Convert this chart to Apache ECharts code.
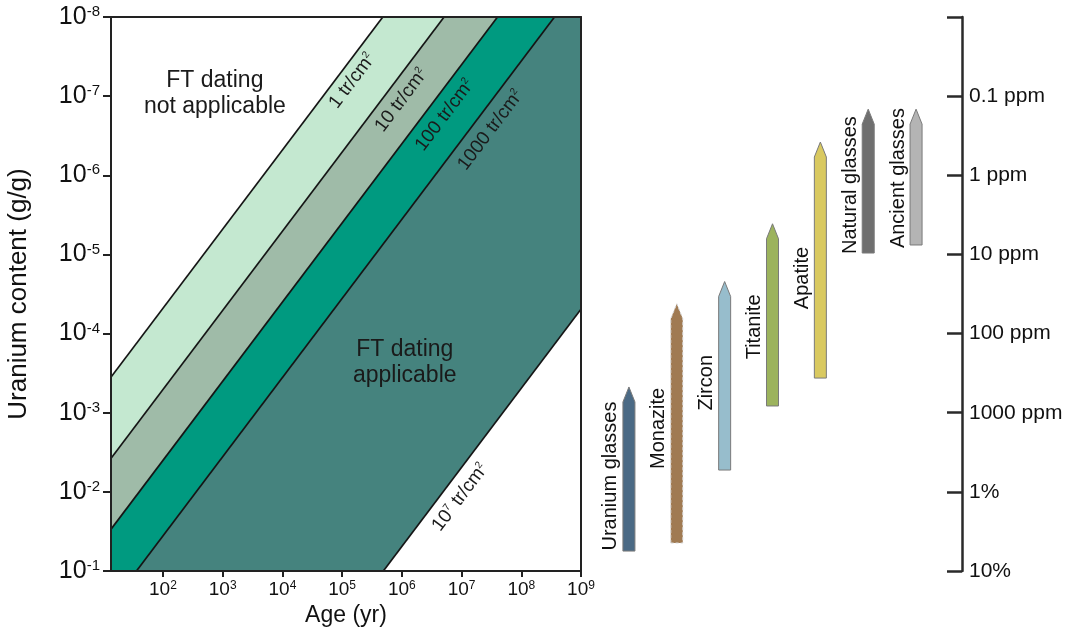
<!DOCTYPE html>
<html><head><meta charset="utf-8">
<script src="https://cdn.jsdelivr.net/npm/echarts@6/dist/echarts.min.js"></script>
<style>html,body{margin:0;padding:0;background:#fff}#c{width:1066px;height:633px}</style>
</head><body><div id="c"></div>
<script>
const FONT = '"Liberation Sans", Arial, sans-serif';

// ---------- data ----------
const ageLogRange = [1.13, 9];            // log10(age, yr) shown on x axis
const uraniumLogRange = [-8, -1];         // log10(U, g/g) shown on y axis
const xTickExponents = [2, 3, 4, 5, 6, 7, 8, 9];
const yTickExponents = [-8, -7, -6, -5, -4, -3, -2, -1];
const trackDensityLabels = ['1', '10', '100', '1000', '10^7'];
const trackLineUxT = [0.0048, 0.051, 0.40, 3.6, 49000];   // U (g/g) x age (yr) along each iso-density line
const bandColors = ['#c4e8d0', '#9fbba8', '#009a80', '#45837e'];
const regionTexts = ['FT dating\nnot applicable', 'FT dating\napplicable'];
const regionAge = [740, 1.12e6];          // yr
const regionUranium = [9.3e-8, 2.3e-4];   // g/g

const minerals = ['Uranium glasses', 'Monazite', 'Zircon', 'Titanite', 'Apatite', 'Natural glasses', 'Ancient glasses'];
const mineralLowPpm = [473, 42, 22, 4.1, 0.38, 0.146, 0.146];      // arrow tip (low U)
const mineralHighPpm = [56000, 44300, 5300, 822, 365, 9.6, 7.6];   // bar base (high U)
const mineralColors = ['#4b6a85', '#a07a52', '#97bdcc', '#9cb35d', '#d9c960', '#6f6f6f', '#b4b4b4'];
const ppmTickLabels = ['', '0.1 ppm', '1 ppm', '10 ppm', '100 ppm', '1000 ppm', '1%', '10%'];

// ---------- layout (pixels / styles) ----------
const trackLabelAnchorLogU = [-7.30, -7.07, -6.89, -6.70, -2.06];
const trackLabelPerp = [14, 16, 17, 17, 17];
const mineralLabelShift = [7, 5, 7, 12, 18, 4, 1];

const lg = Math.log10;
const lineC = i => lg(trackLineUxT[i]);

const chart = echarts.init(document.getElementById('c'), null, {renderer: 'canvas'});

const frameAxisCommon = {
  axisLine: {show: true, lineStyle: {color: '#222', width: 2}},
  axisTick: {show: false}, axisLabel: {show: false}, splitLine: {show: false}, z: 10
};

const option = {
  animation: false,
  backgroundColor: '#fff',
  textStyle: {fontFamily: FONT},
  grid: [
    {left: 111, top: 17, width: 470, height: 554},
    {left: 605, top: 17, width: 335, height: 554}
  ],
  xAxis: [
    {
      type: 'value', gridIndex: 0, min: ageLogRange[0], max: ageLogRange[1], position: 'bottom',
      name: 'Age (yr)', nameLocation: 'middle', nameGap: 33,
      nameTextStyle: {fontSize: 23, color: '#111', fontFamily: FONT},
      axisLine: {show: true, onZero: false, lineStyle: {color: '#222', width: 2}},
      axisTick: {show: true, customValues: xTickExponents, length: 6, lineStyle: {color: '#222', width: 2}},
      axisLabel: {
        show: true, customValues: xTickExponents, margin: 9,
        formatter: v => '{b|10}{s|' + v + '}',
        rich: {b: {fontSize: 19, color: '#111', fontFamily: FONT}, s: {fontSize: 12, color: '#111', verticalAlign: 'top', fontFamily: FONT}}
      },
      splitLine: {show: false}, z: 10
    },
    Object.assign({type: 'value', gridIndex: 0, min: ageLogRange[0], max: ageLogRange[1], position: 'top'}, frameAxisCommon),
    {
      type: 'category', gridIndex: 1, data: minerals, show: false
    }
  ],
  yAxis: [
    {
      type: 'value', gridIndex: 0, min: uraniumLogRange[0], max: uraniumLogRange[1], interval: 1, inverse: true, position: 'left',
      name: 'Uranium content (g/g)', nameLocation: 'middle', nameGap: 79, nameRotate: 90,
      nameTextStyle: {fontSize: 26, color: '#111', fontFamily: FONT},
      axisLine: {show: true, onZero: false, lineStyle: {color: '#222', width: 2}},
      axisTick: {show: true, length: 8, lineStyle: {color: '#222', width: 2}},
      axisLabel: {
        margin: 11,
        formatter: v => '{b|10}{s|' + v + '}',
        rich: {b: {fontSize: 25, color: '#111', fontFamily: FONT}, s: {fontSize: 15, color: '#111', verticalAlign: 'top', fontFamily: FONT}}
      },
      splitLine: {show: false}, z: 10
    },
    Object.assign({type: 'value', gridIndex: 0, min: uraniumLogRange[0], max: uraniumLogRange[1], inverse: true, position: 'right'}, frameAxisCommon),
    {
      type: 'value', gridIndex: 1, min: uraniumLogRange[0], max: uraniumLogRange[1], interval: 1, inverse: true,
      position: 'right', offset: 22,
      axisLine: {show: true, onZero: false, lineStyle: {color: '#2a2a2a', width: 2.5}},
      axisTick: {show: true, inside: true, length: 15, lineStyle: {color: '#2a2a2a', width: 2.5}},
      axisLabel: {
        margin: 7, fontSize: 21, color: '#111', fontFamily: FONT,
        formatter: v => ppmTickLabels[Math.round(v - uraniumLogRange[0])]
      },
      splitLine: {show: false}
    }
  ],
  series: [
    // coloured bands between iso track-density lines
    {
      type: 'custom', xAxisIndex: 0, yAxisIndex: 0, clip: true, z: 2, silent: true,
      data: bandColors.map((c, i) => [i]),
      renderItem: (params, api) => {
        const i = params.dataIndex;
        const ca = lineC(i), cb = lineC(i + 1);
        const pts = [[-3, ca + 3], [13, ca - 13], [13, cb - 13], [-3, cb + 3]].map(p => api.coord(p));
        return {type: 'polygon', shape: {points: pts}, style: {fill: bandColors[i], stroke: null}};
      }
    },
    // iso track-density lines
    {
      type: 'custom', xAxisIndex: 0, yAxisIndex: 0, clip: true, z: 3, silent: true,
      data: trackLineUxT.map((v, i) => [i]),
      renderItem: (params, api) => {
        const c = lineC(params.dataIndex);
        const pts = [[-3, c + 3], [13, c - 13]].map(p => api.coord(p));
        return {type: 'polyline', shape: {points: pts}, style: {stroke: '#151515', lineWidth: 1.7, fill: null}};
      }
    },
    // line labels
    {
      type: 'custom', xAxisIndex: 0, yAxisIndex: 0, z: 4, silent: true,
      data: trackDensityLabels.map((v, i) => [i]),
      renderItem: (params, api) => {
        const i = params.dataIndex;
        const c = lineC(i);
        const yl = trackLabelAnchorLogU[i];
        const p = api.coord([c - yl, yl]);
        const p2 = api.coord([c - yl + 1, yl - 1]);
        const ang = Math.atan2(-(p2[1] - p[1]), p2[0] - p[0]);
        const d = trackLabelPerp[i];
        const x = p[0] + Math.sin(ang) * d, y = p[1] + Math.cos(ang) * d;
        const lab = trackDensityLabels[i];
        let txt;
        if (lab.indexOf('^') >= 0) {
          const parts = lab.split('^');
          txt = '{n|' + parts[0] + '}{s|' + parts[1] + '}{n| tr/cm}{s|2}';
        } else {
          txt = '{n|' + lab + ' tr/cm}{s|2}';
        }
        return {
          type: 'text', x: x, y: y, rotation: ang,
          style: {
            text: txt, align: 'center', verticalAlign: 'middle',
            rich: {n: {fontSize: 19, fill: '#1a1a1a', fontFamily: FONT}, s: {fontSize: 10, fill: '#1a1a1a', verticalAlign: 'top', fontFamily: FONT}}
          }
        };
      }
    },
    // region annotations
    {
      type: 'custom', xAxisIndex: 0, yAxisIndex: 0, z: 4, silent: true,
      data: regionTexts.map((t, i) => [lg(regionAge[i]), lg(regionUranium[i])]),
      renderItem: (params, api) => {
        const p = api.coord([api.value(0), api.value(1)]);
        return {
          type: 'text', x: p[0], y: p[1],
          style: {text: regionTexts[params.dataIndex], align: 'center', verticalAlign: 'middle',
            font: '23px ' + FONT, fill: '#1a1a1a', lineHeight: 26}
        };
      }
    },
    // mineral arrows
    {
      type: 'custom', xAxisIndex: 2, yAxisIndex: 2, z: 3, silent: true,
      data: minerals.map((m, i) => [i, lg(mineralHighPpm[i]) - 6, lg(mineralLowPpm[i]) - 6]),
      renderItem: (params, api) => {
        const i = params.dataIndex;
        const base = api.coord([api.value(0), api.value(1)]);
        const tip = api.coord([api.value(0), api.value(2)]);
        const cx = base[0], yB = base[1], yT = tip[1];
        const hw = 6, head = 15;
        const pts = [[cx - hw, yB], [cx - hw, yT + head], [cx, yT], [cx + hw, yT + head], [cx + hw, yB]];
        const dashed = minerals[i] === 'Monazite';
        return {
          type: 'group',
          children: [
            {type: 'polygon', shape: {points: pts},
              style: {fill: mineralColors[i], stroke: dashed ? '#d6d6d6' : '#7a7a7a', lineWidth: 1, lineDash: dashed ? [3, 2] : null}},
            {type: 'text', x: cx - 18, y: (yB + yT) / 2 + mineralLabelShift[i], rotation: Math.PI / 2,
              style: {text: minerals[i], align: 'center', verticalAlign: 'middle', font: '20px ' + FONT, fill: '#111'}}
          ]
        };
      }
    }
  ]
};
chart.setOption(option);
</script>
</body></html>
